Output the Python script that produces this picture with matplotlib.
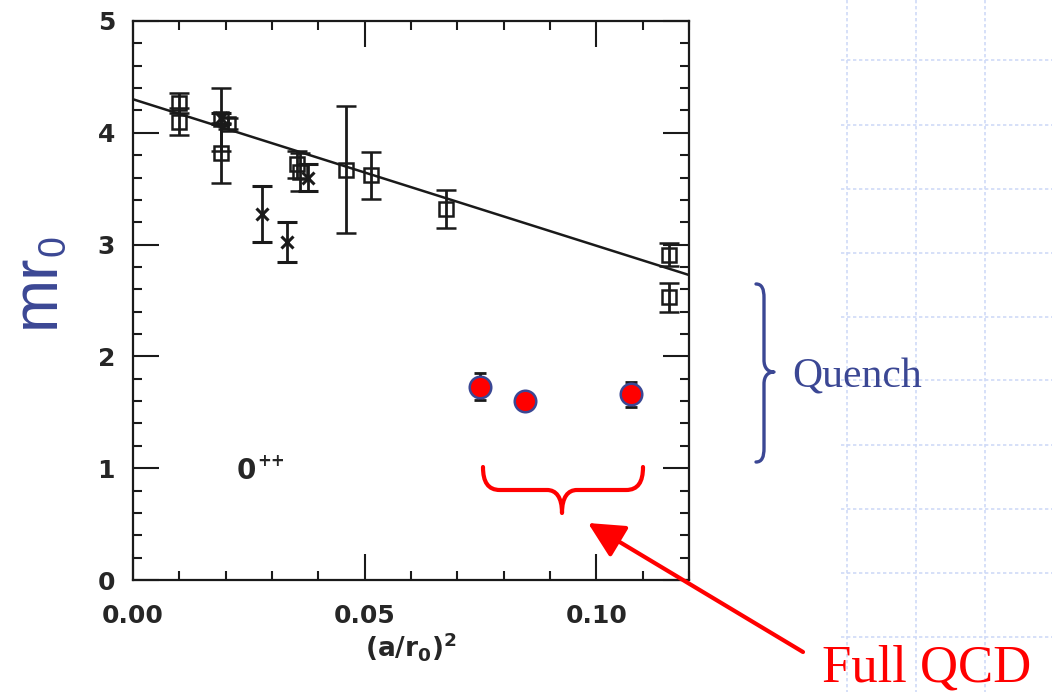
import matplotlib
matplotlib.use("Agg")
import matplotlib.pyplot as plt
import matplotlib.transforms as mtransforms
from matplotlib.path import Path
from matplotlib.patches import PathPatch, FancyArrowPatch
from matplotlib.lines import Line2D
from matplotlib.ticker import MultipleLocator

# ---- data: 0++ glueball mass in units of r0 versus (a/r0)^2 ----
quenched_sq_x = [0.0100, 0.0100, 0.0190, 0.0190, 0.0205, 0.0355, 0.0360,
                 0.0459, 0.0513, 0.0675, 0.1157, 0.1157]
quenched_sq_y = [4.27, 4.10, 4.12, 3.82, 4.08, 3.72, 3.65,
                 3.67, 3.62, 3.32, 2.91, 2.53]
quenched_sq_err = [0.09, 0.12, 0.28, 0.27, 0.05, 0.12, 0.17,
                   0.57, 0.21, 0.17, 0.10, 0.13]

quenched_x_x = [0.0190, 0.0278, 0.0332, 0.0378]
quenched_x_y = [4.13, 3.27, 3.02, 3.60]
quenched_x_err = [0.05, 0.25, 0.18, 0.12]

full_qcd_x = [0.0748, 0.0845, 0.1075]
full_qcd_y = [1.73, 1.60, 1.66]
full_qcd_err = [0.12, 0.06, 0.11]

fit_intercept = 4.30
fit_slope = -13.1
fit_x = [0.0, 0.12]

x_ticks = [0.00, 0.05, 0.10]
x_tick_labels = ["0.00", "0.05", "0.10"]
y_ticks = [0, 1, 2, 3, 4, 5]

W, H = 1052, 692
NAVY = "#3b4794"
RED = "#ff0000"
GRID = "#cfdaf7"
INK = "#1a1a1a"

fig = plt.figure(figsize=(W / 100, H / 100), dpi=100)
fig.patch.set_facecolor("white")

# pixel coordinates on the slide (origin top-left)
px = mtransforms.Affine2D().scale(1 / W, -1 / H).translate(0, 1) + fig.transFigure

# slide background grid on the right
for gx in [847, 916, 985]:
    fig.add_artist(Line2D([gx, gx], [0, H], transform=px, color=GRID,
                          lw=1.2, ls=(0, (2.0, 1.6)), zorder=0))
for gy in [60, 125, 189, 253, 317, 380, 445, 509, 573, 637]:
    fig.add_artist(Line2D([841, W], [gy, gy], transform=px, color=GRID,
                          lw=1.2, ls=(0, (2.0, 1.6)), zorder=0))

ax = fig.add_axes([133 / W, (H - 580) / H, 556 / W, 559 / H])
ax.set_xlim(0, 0.12)
ax.set_ylim(0, 5)
ax.patch.set_alpha(0)

for s in ax.spines.values():
    s.set_linewidth(1.6)
    s.set_color(INK)

ax.xaxis.set_major_locator(MultipleLocator(0.05))
ax.xaxis.set_minor_locator(MultipleLocator(0.01))
ax.yaxis.set_major_locator(MultipleLocator(1))
ax.yaxis.set_minor_locator(MultipleLocator(0.2))
ax.set_xticks(x_ticks)
ax.set_xticklabels(x_tick_labels)
ax.set_yticks(y_ticks)
ax.tick_params(which="both", direction="in", top=True, right=True,
               color=INK, width=1.5)
ax.tick_params(which="major", length=19)
ax.tick_params(which="minor", length=6.5)
ax.tick_params(axis="x", which="major", pad=17)
ax.tick_params(axis="y", which="major", pad=13)
for lab in ax.get_xticklabels() + ax.get_yticklabels():
    lab.set_fontfamily("DejaVu Sans")
    lab.set_fontweight("bold")
    lab.set_fontsize(18)
    lab.set_color("#262626")

ax.set_xlabel("(a/r$_\\mathbf{0}$)$^\\mathbf{2}$", fontsize=19,
              fontweight="bold", color="#262626", labelpad=2)

# linear fit to the quenched data
ax.plot(fit_x, [fit_intercept + fit_slope * x for x in fit_x],
        color=INK, lw=1.8, zorder=2)

# quenched data: squares and crosses
ax.errorbar(quenched_sq_x, quenched_sq_y, yerr=quenched_sq_err, fmt="s",
            ms=10, mfc="none", mec=INK, mew=1.8, ecolor=INK,
            elinewidth=2.0, capsize=7, capthick=2.0, zorder=3)
ax.errorbar(quenched_x_x, quenched_x_y, yerr=quenched_x_err, fmt="x",
            ms=9, mec=INK, mew=2.2, ecolor=INK,
            elinewidth=2.0, capsize=7, capthick=2.0, zorder=3)

# full QCD data
ax.errorbar(full_qcd_x, full_qcd_y, yerr=full_qcd_err, fmt="none",
            ecolor=INK, elinewidth=2.0, capsize=4, capthick=2.0, zorder=3)
ax.plot(full_qcd_x, full_qcd_y, "o", ms=15.5, mfc=RED, mec=NAVY, mew=1.8,
        zorder=4, clip_on=False)

# channel label
ax.text(0.0224, 0.90, "0", fontsize=20, fontweight="bold",
        family="DejaVu Sans", color="#262626", ha="left", va="baseline")
ax.text(0.0268, 1.02, "++", fontsize=12, fontweight="bold",
        family="DejaVu Sans", color="#262626", ha="left", va="baseline")

# y-axis label on the slide
fig.text(54 / W, 1 - 328 / H, "mr", rotation=90, rotation_mode="anchor",
         ha="left", va="baseline", fontsize=46, family="Liberation Sans",
         color=NAVY)
fig.text(65 / W, 1 - 256 / H, "0", rotation=90, rotation_mode="anchor",
         ha="left", va="baseline", fontsize=27, family="Liberation Sans",
         color=NAVY)

# brace grouping the quenched points
M, L, C = Path.MOVETO, Path.LINETO, Path.CURVE4
q_verts = [(756, 284), (762, 284), (764, 289), (764, 298),
           (764, 360), (764, 368), (768, 372), (774, 372),
           (768, 372), (764, 376), (764, 384),
           (764, 448), (764, 457), (762, 462), (756, 462)]
q_codes = [M, C, C, C, L, C, C, C, C, C, C, L, C, C, C]
fig.add_artist(PathPatch(Path(q_verts, q_codes), transform=px, fc="none",
                         ec=NAVY, lw=2.4, capstyle="round", joinstyle="round"))
fig.text(792 / W, 1 - 387 / H, "Quench", fontsize=30, family="Liberation Serif",
         color=NAVY, ha="left", va="baseline")

# brace grouping the full QCD points
f_verts = [(483, 467), (483, 482), (488, 490), (500, 490),
           (547, 490), (556, 490), (562, 497), (562, 513),
           (562, 497), (568, 490), (577, 490),
           (626, 490), (638, 490), (643, 482), (643, 467)]
f_codes = [M, C, C, C, L, C, C, C, C, C, C, L, C, C, C]
fig.add_artist(PathPatch(Path(f_verts, f_codes), transform=px, fc="none",
                         ec=RED, lw=3.0, capstyle="round", joinstyle="round"))

fig.add_artist(FancyArrowPatch((803, 652), (588, 523), transform=px,
                               arrowstyle="-|>,head_length=1.1,head_width=0.55",
                               mutation_scale=20, lw=3.0, color=RED,
                               shrinkA=0, shrinkB=0))
fig.text(822 / W, 1 - 682 / H, "Full QCD", fontsize=38, family="Liberation Serif",
         color=RED, ha="left", va="baseline")

fig.savefig("out.png", dpi=100, facecolor="white")
